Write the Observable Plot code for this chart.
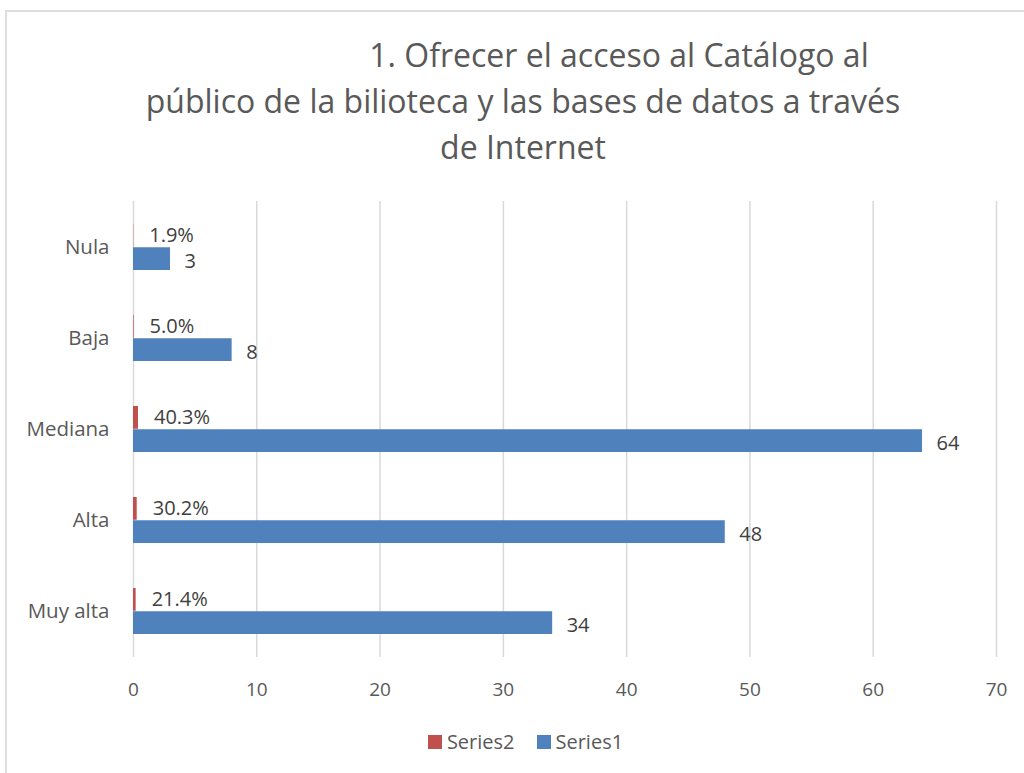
<!DOCTYPE html>
<html>
<head>
<meta charset="utf-8">
<script src="https://cdn.jsdelivr.net/npm/d3@7"></script>
<script src="https://cdn.jsdelivr.net/npm/@observablehq/plot@0.6"></script>
<style>
  html, body { margin: 0; padding: 0; background: #fff; overflow: hidden; }
  #page { position: relative; width: 1024px; height: 773px; font-family: "Open Sans", sans-serif; }
  #frame { position: absolute; left: 5px; top: 10px; right: 0; bottom: 0; border-top: 2px solid #dedede; border-left: 2px solid #dedede; }
  #title { position: absolute; left: 0; top: 32px; width: 1024px; box-sizing: border-box; padding-left: 22px; text-align: center; font-size: 32px; line-height: 46px; color: #595959; }
  #title .l1 { padding-left: 192px; }
  #chart { position: absolute; left: 0; top: 170px; }
  #legend { position: absolute; left: 0; top: 732px; width: 1024px; box-sizing: border-box; padding-left: 27px; display: flex; justify-content: center; align-items: center; font-size: 20px; line-height: 20px; color: #595959; }
  #legend .item { display: flex; align-items: center; margin: 0 11px; }
  #legend .sw { width: 14px; height: 14px; margin-right: 5px; }
</style>
</head>
<body>
<div id="page">
  <div id="frame"></div>
  <div id="title">
    <div class="l1">1. Ofrecer el acceso al Catálogo al</div>
    <div>público de la bilioteca y las bases de datos a través</div>
    <div>de Internet</div>
  </div>
  <div id="chart"></div>
  <div id="legend"></div>
</div>
<script>
const categories = ["Nula", "Baja", "Mediana", "Alta", "Muy alta"];
const series1 = [3, 8, 64, 48, 34];
const series2 = [0.019, 0.05, 0.403, 0.302, 0.214];
const xTicks = [0, 10, 20, 30, 40, 50, 60, 70];
const seriesNames = ["Series2", "Series1"];
const seriesColors = ["#C0504D", "#4F81BD"];

const rows = categories.map((c, i) => ({ category: c, s1: series1[i], s2: series2[i] }));
const pct = d3.format(".1%");
const half = 23.25;

const hasAxisMarks = typeof Plot.axisX === "function";

const marks = [
  Plot.ruleX(xTicks, { stroke: "#d9d9d9", strokeWidth: 1.5 }),
  Plot.barX(rows, { x: "s2", y: "category", fill: seriesColors[0], insetBottom: half }),
  Plot.barX(rows, { x: "s1", y: "category", fill: seriesColors[1], insetTop: half }),
  Plot.text(rows, { x: "s2", y: "category", text: d => pct(d.s2), dx: 15.5, dy: -12, textAnchor: "start", fontSize: 20, fill: "#404040" }),
  Plot.text(rows, { x: "s1", y: "category", text: d => String(d.s1), dx: 14, dy: 14, textAnchor: "start", fontSize: 20, fill: "#404040" })
];
if (hasAxisMarks) {
  marks.push(
    Plot.axisX(xTicks, { tickSize: 0, tickPadding: 25, fontSize: 19, color: "#595959", label: null }),
    Plot.axisY({ tickSize: 0, tickPadding: 24, fontSize: 20.5, color: "#595959", label: null })
  );
}

const chart = Plot.plot({
  width: 1024,
  height: 540,
  marginTop: 31,
  marginBottom: 53,
  marginLeft: 133,
  marginRight: 28,
  style: { fontFamily: "Open Sans", background: "transparent", fontSize: "19px", color: "#595959" },
  x: Object.assign({ domain: [0, 70], ticks: xTicks, label: null, tickSize: 0, tickPadding: 25 }, hasAxisMarks ? { axis: null } : {}),
  y: Object.assign({ domain: categories, paddingInner: 0.49, paddingOuter: 0.245, label: null, tickSize: 0, tickPadding: 24 }, hasAxisMarks ? { axis: null } : {}),
  marks
});
document.getElementById("chart").appendChild(chart);

const legend = document.getElementById("legend");
seriesNames.forEach((name, i) => {
  const item = document.createElement("div");
  item.className = "item";
  const sw = document.createElement("div");
  sw.className = "sw";
  sw.style.background = seriesColors[i];
  const label = document.createElement("span");
  label.textContent = name;
  item.appendChild(sw);
  item.appendChild(label);
  legend.appendChild(item);
});
</script>
</body>
</html>
